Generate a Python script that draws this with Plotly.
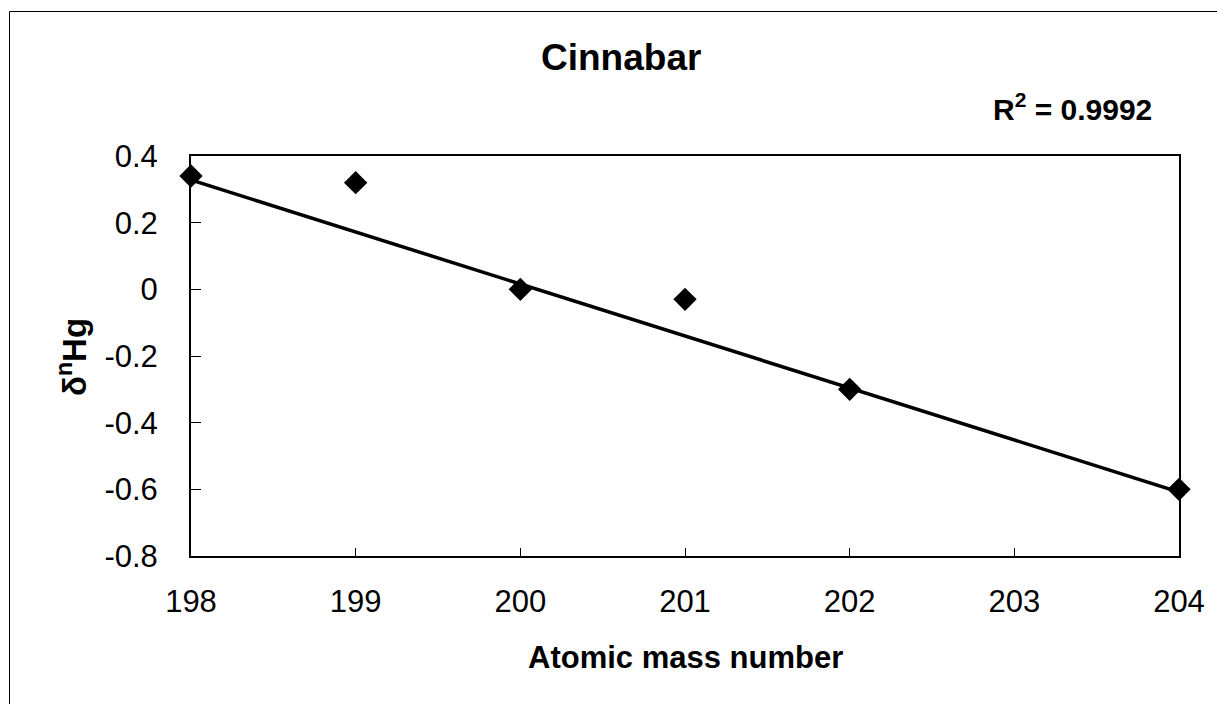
import numpy as np
import plotly.graph_objects as go

mass = [198, 199, 200, 201, 202, 204]
delta = [0.34, 0.32, 0.00, -0.03, -0.30, -0.60]
fit_mass = [198, 200, 202, 204]  # even isotopes (mass-dependent trend)
fit_delta = [0.34, 0.00, -0.30, -0.60]
x_ticks = [198, 199, 200, 201, 202, 203, 204]
y_ticks = [0.4, 0.2, 0.0, -0.2, -0.4, -0.6, -0.8]
y_tick_text = ["0.4", "0.2", "0", "-0.2", "-0.4", "-0.6", "-0.8"]
title_text = "Cinnabar"
r2_text = "R<sup>2</sup> = 0.9992"
x_title = "Atomic mass number"
y_title = "δ<sup>n</sup>Hg"

slope, intercept = np.polyfit(fit_mass, fit_delta, 1)
line_x = [min(x_ticks), max(x_ticks)]
line_y = [slope * v + intercept for v in line_x]

FONT = "Liberation Sans, Arial, sans-serif"

fig = go.Figure()
fig.add_trace(go.Scatter(x=line_x, y=line_y, mode="lines",
                         line=dict(color="black", width=3.5),
                         showlegend=False, hoverinfo="skip"))
fig.add_trace(go.Scatter(x=mass, y=delta, mode="markers",
                         marker=dict(symbol="diamond", size=18, color="black"),
                         showlegend=False, cliponaxis=False))

W, H = 1217, 704
ml, mr, mt, mb = 191, 38, 156, 148
pw, ph = W - ml - mr, H - mt - mb

def px_x(p):
    return (p - ml) / pw

def px_y(p):
    return (H - mb - p) / ph

fig.update_layout(
    width=W, height=H,
    margin=dict(l=ml, r=mr, t=mt, b=mb, pad=0),
    paper_bgcolor="white", plot_bgcolor="white",
    font=dict(family=FONT, color="black", size=31),
    xaxis=dict(range=[198, 204], tickmode="array", tickvals=x_ticks,
               ticks="inside", ticklen=8, tickwidth=1, tickcolor="black",
               showline=True, linecolor="black", linewidth=2, mirror=True,
               showgrid=False, zeroline=False,
               tickfont=dict(size=31, family=FONT),
               ticklabelstandoff=17),
    yaxis=dict(range=[-0.8, 0.4], tickmode="array", tickvals=y_ticks,
               ticktext=y_tick_text,
               ticks="inside", ticklen=10, tickwidth=1, tickcolor="black",
               showline=True, linecolor="black", linewidth=2, mirror=True,
               showgrid=False, zeroline=False,
               tickfont=dict(size=31, family=FONT),
               ticklabelstandoff=25),
    annotations=[
        dict(text="<b>" + title_text + "</b>", xref="paper", yref="paper",
             x=px_x(621), y=px_y(58), xanchor="center", yanchor="middle",
             showarrow=False, font=dict(size=37, family=FONT)),
        dict(text="<b>" + r2_text + "</b>", xref="paper", yref="paper",
             x=px_x(1072), y=px_y(107), xanchor="center", yanchor="middle",
             showarrow=False, font=dict(size=30, family=FONT)),
        dict(text="<b>" + x_title + "</b>", xref="paper", yref="paper",
             x=px_x(685), y=px_y(657), xanchor="center", yanchor="middle",
             showarrow=False, font=dict(size=31, family=FONT)),
        dict(text="<b>" + y_title + "</b>", xref="paper", yref="paper",
             x=px_x(72), y=px_y(357), xanchor="center", yanchor="middle",
             textangle=-90, showarrow=False, font=dict(size=33, family=FONT)),
    ],
    shapes=[
        dict(type="rect", xref="paper", yref="paper",
             x0=px_x(9.5), x1=px_x(1240), y0=px_y(730), y1=px_y(11.5),
             line=dict(color="black", width=1), fillcolor="rgba(0,0,0,0)",
             layer="below"),
    ],
)

fig.write_html("out.html")
